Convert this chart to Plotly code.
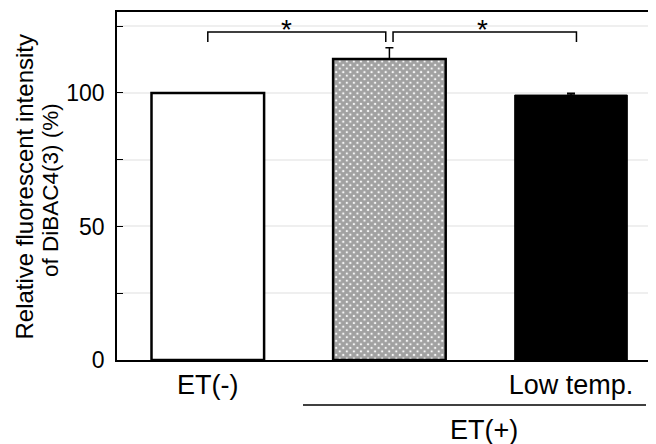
import plotly.graph_objects as go

# ---- data ----
categories = ["ET(-)", "", "Low temp."]
group_label = "ET(+)"
values = [100, 112.7, 99.2]
errors_up = [0, 4.2, 0.7]
y_tick_vals = [0, 25, 50, 75, 100, 125]
y_tick_text = ["0", "", "50", "", "100", ""]
sig_pairs = [(0, 0.98), (1.02, 2.03)]
sig_star_x = [0.435, 1.51]
sig_text = ["*", "*"]
y_title_lines = ["Relative fluorescent intensity", "of DiBAC4(3) (%)"]

x = list(range(len(categories)))

# page body has an 8px margin: figure starts at (8, 8)
OFF = 8
W, H = 656 - OFF, 444 - OFF
ML, MR, MT, MB = 117 - OFF, 0, 12 - OFF, 84

fig = go.Figure()
fig.add_trace(go.Bar(
    x=x, y=values, width=0.62,
    marker=dict(
        color=["white", "white", "black"],
        line=dict(color="black", width=[2.5, 2.5, 1]),
        pattern=dict(shape=["", "x", ""], fgcolor="black", bgcolor="white",
                     size=5, solidity=0.85),
    ),
    error_y=dict(type="data", array=errors_up, arrayminus=[0]*len(values),
                 symmetric=False, color="black", thickness=1.5, width=4),
    showlegend=False,
))

shapes = []
annotations = []
for (a, b), sx, t in zip(sig_pairs, sig_star_x, sig_text):
    shapes.append(dict(type="path", xref="x", yref="y",
                       path=f"M {a},119.1 L {a},122.8 L {b},122.8 L {b},119.1",
                       line=dict(color="black", width=1.5)))
    annotations.append(dict(x=sx, y=117.3, xref="x", yref="y", text=t,
                            showarrow=False, yanchor="bottom",
                            font=dict(size=28, color="black")))

plot_w = W - ML - MR
plot_h = H - MT - MB
def px_to_paper_x(px):
    return (px - OFF - ML) / plot_w
def px_to_paper_y(py):
    return (H + OFF - MB - py) / plot_h

shapes.append(dict(type="line", xref="paper", yref="paper",
                   x0=px_to_paper_x(303), x1=px_to_paper_x(646),
                   y0=px_to_paper_y(405), y1=px_to_paper_y(405),
                   line=dict(color="black", width=1.3)))
annotations.append(dict(x=1.52, y=px_to_paper_y(430), xref="x", yref="paper",
                        text=group_label, showarrow=False, yanchor="middle",
                        font=dict(size=27, color="black")))
for line, cx, cy, fs in zip(y_title_lines, [24, 50], [187.5, 190], [24, 22.5]):
    annotations.append(dict(x=px_to_paper_x(cx), y=px_to_paper_y(cy), xref="paper", yref="paper",
                            text=line, textangle=-90, showarrow=False,
                            xanchor="center", yanchor="middle",
                            font=dict(size=fs, color="black")))

fig.update_layout(
    width=W, height=H,
    margin=dict(l=ML, r=MR, t=MT, b=MB, pad=0),
    paper_bgcolor="white", plot_bgcolor="white",
    font=dict(family="Liberation Sans, Arial, sans-serif", color="black"),
    shapes=shapes, annotations=annotations,
    xaxis=dict(range=[-0.5, 2.468], tickvals=x, ticktext=categories,
               showline=True, linecolor="black", linewidth=1.5, mirror=True,
               ticks="", showgrid=False, zeroline=False,
               tickfont=dict(size=27), fixedrange=True),
    yaxis=dict(range=[0, 130.3], tickvals=y_tick_vals, ticktext=y_tick_text,
               showline=True, linecolor="black", linewidth=1.5,
               ticks="inside", ticklen=6, tickwidth=1, tickcolor="black",
               showgrid=True, gridcolor="#efefef", gridwidth=1.5, zeroline=False,
               tickfont=dict(size=23), ticklabelstandoff=6),
)

fig.write_html("out.html")
